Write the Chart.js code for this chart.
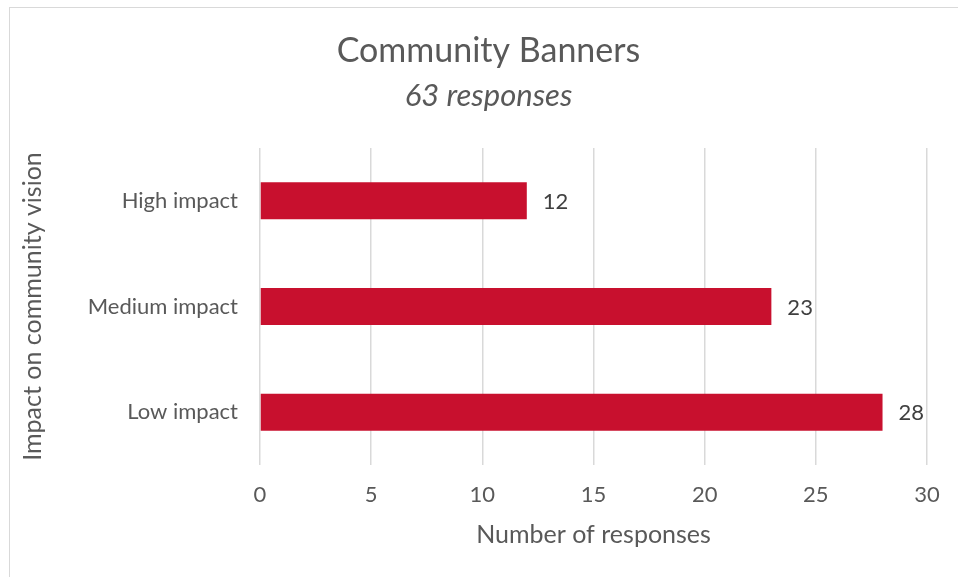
<!DOCTYPE html>
<html lang="en">
<head>
    <meta charset="UTF-8">
    <title>Community Banners</title>
    <script src="https://cdn.jsdelivr.net/npm/chart.js"></script>
    <style>
        html, body { margin: 0; padding: 0; background: #ffffff; overflow: hidden; }
        .moldura {
            position: absolute; left: 9px; top: 7px;
            width: 980px; height: 600px;
            border: 1px solid #d9d9d9;
        }
        .grafico { position: absolute; left: 0; top: 0; width: 958px; height: 577px; }
    </style>
</head>
<body>
    <div class="moldura"></div>
    <div class="grafico">
        <canvas id="myChartCanvas1" width="958" height="577"></canvas>
    </div>

<script>
    // dados do grafico
    var categorias = ['High impact', 'Medium impact', 'Low impact'];
    var respostas = [12, 23, 28];
    var ticksX = [0, 5, 10, 15, 20, 25, 30];

    var fonte = "Lato, 'Open Sans', sans-serif";

    // rotulos no fim das barras
    const rotulos = {
        id: 'rotulos',
        afterDatasetsDraw(chart) {
            const ctx = chart.ctx;
            const meta = chart.getDatasetMeta(0);
            ctx.save();
            ctx.font = '22px ' + fonte;
            ctx.fillStyle = '#404040';
            ctx.textAlign = 'left';
            ctx.textBaseline = 'middle';
            meta.data.forEach(function (barra, i) {
                ctx.fillText(String(respostas[i]), barra.x + 16, barra.y + 1);
            });
            ctx.restore();
        }
    };

    const config = {
        type: 'bar',
        data: {
            labels: categorias,
            datasets: [{
                data: respostas,
                backgroundColor: '#c8102e',
                borderWidth: 0,
                categoryPercentage: 1,
                barPercentage: 0.35
            }]
        },
        options: {
            indexAxis: 'y',
            responsive: false,
            animation: false,
            layout: { padding: { left: 50, right: 31, top: 0, bottom: 27 } },
            plugins: {
                legend: { display: false },
                tooltip: { enabled: false },
                title: {
                    display: true,
                    text: 'Community Banners',
                    color: '#595959',
                    font: { family: fonte, size: 34, weight: 'normal' },
                    padding: { top: 31, bottom: 6 }
                },
                subtitle: {
                    display: true,
                    text: '63 responses',
                    color: '#595959',
                    font: { family: fonte, size: 31, style: 'italic', weight: 'normal' },
                    padding: { top: 0, bottom: 33 }
                }
            },
            scales: {
                x: {
                    min: 0,
                    max: 30,
                    afterBuildTicks: function (scale) {
                        scale.ticks = ticksX.map(function (v) { return { value: v }; });
                    },
                    grid: { color: '#d9d9d9', lineWidth: 1.5, drawTicks: false },
                    border: { display: false },
                    ticks: {
                        color: '#595959',
                        padding: 17,
                        font: { family: fonte, size: 22 }
                    },
                    title: {
                        display: true,
                        text: 'Number of responses',
                        color: '#595959',
                        font: { family: fonte, size: 25 },
                        padding: { top: 12, bottom: 0 }
                    },
                    afterFit: function (scale) {
                        scale.height = 85;
                    }
                },
                y: {
                    grid: { display: false },
                    border: { display: false },
                    ticks: {
                        color: '#595959',
                        padding: 14,
                        font: { family: fonte, size: 22 }
                    },
                    title: {
                        display: true,
                        text: 'Impact on community vision',
                        color: '#595959',
                        font: { family: fonte, size: 25 },
                        padding: { top: -32, bottom: 6 }
                    },
                    afterFit: function (scale) {
                        scale.width = 210;
                    }
                }
            }
        },
        plugins: [rotulos]
    };

    let myChart = new Chart(document.getElementById('myChartCanvas1'), config);
</script>
</body>
</html>
